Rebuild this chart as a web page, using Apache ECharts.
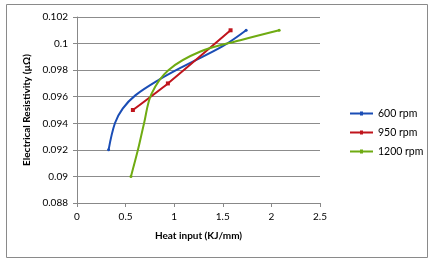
<!DOCTYPE html>
<html><head><meta charset="utf-8">
<script src="https://cdn.jsdelivr.net/npm/echarts@6/dist/echarts.min.js"></script>
<style>html,body{margin:0;padding:0;background:#fff}#c{width:431px;height:262px}</style>
</head><body><div id="c"></div>
<script>
const seriesNames = ['600 rpm', '950 rpm', '1200 rpm'];
const rpm600 = [[0.325,0.092],[0.39,0.094],[0.47,0.0951],[0.6,0.0961],[0.85,0.0973],[1.1,0.0983],[1.5,0.0998],[1.74,0.101]];
const rpm950 = [[0.575,0.095],[0.935,0.097],[1.58,0.101]];
const rpm1200 = [[0.555,0.090],[0.627,0.092],[0.69,0.094],[0.765,0.0962],[0.94,0.098],[1.27,0.0994],[1.68,0.10025],[2.08,0.101]];
const xTicks = [0, 0.5, 1, 1.5, 2, 2.5];
const yTicks = [0.088, 0.09, 0.092, 0.094, 0.096, 0.098, 0.1, 0.102];
const xTitle = 'Heat input (KJ/mm)';
const yTitle = 'Electrical Resistivity (µΩ)';

const colors = ['#1a4db5', '#c0141c', '#6fab12'];
const font = 'Lato, "Open Sans", sans-serif';
const chart = echarts.init(document.getElementById('c'));
function endSym(len){ return (v, p) => (p.dataIndex === 0 || p.dataIndex === len - 1) ? 3 : 0; }
chart.setOption({
  animation: false,
  color: colors,
  graphic: [{type:'rect', shape:{x:6.5,y:4.5,width:421,height:253}, style:{fill:'none', stroke:'#8a8a8a', lineWidth:1}, z:-1}],
  grid: {left: 77, right: 111, top: 17, bottom: 59},
  legend: {
    orient: 'vertical', left: 345, top: 103, itemGap: 8, itemWidth: 23, itemHeight: 12,
    data: seriesNames, textStyle: {fontFamily: font, fontSize: 10.5, color: '#000'},
    icon: 'path://M0,5 L10,5 L10,4 L13,4 L13,5 L23,5 L23,7 L13,7 L13,8 L10,8 L10,7 L0,7 Z'
  },
  xAxis: {
    type: 'value', min: xTicks[0], max: xTicks[xTicks.length-1], interval: 0.5,
    name: xTitle, nameLocation: 'middle', nameGap: 28,
    nameTextStyle: {fontFamily: font, fontSize: 10, fontWeight: 'bold', color: '#000'},
    axisLine: {show: true, lineStyle: {color: '#888'}},
    axisTick: {show: true, length: 4, lineStyle: {color: '#888'}},
    axisLabel: {fontFamily: font, fontSize: 10, color: '#000', margin: 9},
    splitLine: {show: false}
  },
  yAxis: {
    type: 'value', min: yTicks[0], max: yTicks[yTicks.length-1], interval: 0.002,
    name: yTitle, nameLocation: 'middle', nameGap: 44, nameRotate: 90,
    nameTextStyle: {fontFamily: font, fontSize: 10, fontWeight: 'bold', color: '#000'},
    axisLine: {show: true, lineStyle: {color: '#888'}},
    axisTick: {show: true, length: 4, lineStyle: {color: '#888'}},
    axisLabel: {fontFamily: font, fontSize: 10, color: '#000', margin: 9,
      formatter: v => String(parseFloat(v.toFixed(3)))},
    splitLine: {show: true, lineStyle: {color: '#8c8c8c', width: 1}}
  },
  series: [
    {name: seriesNames[0], type: 'line', data: rpm600, smooth: 0.35, symbol: 'circle',
     symbolSize: endSym(rpm600.length), lineStyle: {width: 2}},
    {name: seriesNames[1], type: 'line', data: rpm950, smooth: 0.2, symbol: 'rect',
     symbolSize: 4, lineStyle: {width: 2}},
    {name: seriesNames[2], type: 'line', data: rpm1200, smooth: 0.35, symbol: 'circle',
     symbolSize: endSym(rpm1200.length), lineStyle: {width: 2}}
  ]
});
</script></body></html>
